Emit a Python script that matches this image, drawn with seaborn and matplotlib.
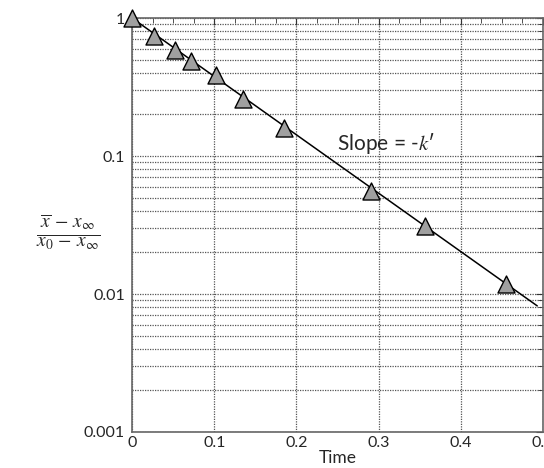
import numpy as np
import pandas as pd
import matplotlib
matplotlib.use("Agg")
import matplotlib.pyplot as plt
import matplotlib.ticker as mticker
import seaborn as sns

# Data
time_pts = [0.0, 0.027, 0.052, 0.072, 0.102, 0.135, 0.185, 0.291, 0.356, 0.455]
ratio_pts = [1.0, 0.741, 0.591, 0.488, 0.386, 0.259, 0.160, 0.0557, 0.0311, 0.0118]

# Straight fit line endpoints
fit_time = [0.0, 0.493]
fit_ratio = [1.0, 0.0082]

x_ticks = [0, 0.1, 0.2, 0.3, 0.4, 0.5]
x_tick_labels = ["0", "0.1", "0.2", "0.3", "0.4", "0.5"]
y_ticks = [0.001, 0.01, 0.1, 1]
y_tick_labels = ["0.001", "0.01", "0.1", "1"]

sns.set_style("white")
plt.rcParams['font.family'] = ['Lato', 'DejaVu Sans']
plt.rcParams['mathtext.fontset'] = 'stix'

pts = pd.DataFrame({"Time": time_pts, "ratio": ratio_pts})
fit = pd.DataFrame({"Time": fit_time, "ratio": fit_ratio})

fig = plt.figure(figsize=(5.44, 4.68), dpi=100)
ax = fig.add_axes([132 / 544, 36 / 468, 411 / 544, 414 / 468])

ax.set_yscale("log")
ax.set_xlim(0, 0.5)
ax.set_ylim(0.001, 1)

# gridlines
ax.grid(True, which="both", axis="y", linestyle=(0, (1, 1)), color="#555555", linewidth=0.9)
ax.grid(True, which="major", axis="x", linestyle=(0, (1, 1)), color="#555555", linewidth=0.9)
ax.set_axisbelow(True)

sns.lineplot(data=fit, x="Time", y="ratio", ax=ax, color="black", linewidth=1.1)
sns.scatterplot(data=pts, x="Time", y="ratio", ax=ax, marker="^", s=150,
                color="#a0a0a0", edgecolor="black", linewidth=1.0,
                clip_on=False, zorder=5)

ax.set_xticks(x_ticks)
ax.set_xticklabels(x_tick_labels)
ax.xaxis.set_minor_locator(mticker.MultipleLocator(0.025))
ax.set_yticks(y_ticks)
ax.set_yticklabels(y_tick_labels)
ax.yaxis.set_minor_locator(mticker.LogLocator(base=10, subs=np.arange(2, 10)))
ax.yaxis.set_minor_formatter(mticker.NullFormatter())

ax.tick_params(which="both", direction="in", top=True, right=True,
               color="#333333", labelsize=11.5, pad=3)
ax.tick_params(which="major", length=5)
ax.tick_params(which="minor", length=3.5)
ax.tick_params(axis="y", which="major", pad=5)

for sp in ax.spines.values():
    sp.set_color("#666666")
    sp.set_linewidth(1.2)

ax.set_xlabel("Time", fontsize=12.5, labelpad=0)
ax.set_ylabel("")

ax.text(0.309, 0.124, "Slope = -$\\mathit{k}$\u2032", fontsize=15,
        ha="center", va="center")

fig.text(68 / 544, 1 - 232 / 468,
         r"$\frac{\overline{x}\,-\,x_{\infty}}{x_0\,-\,x_{\infty}}$",
         fontsize=20, ha="center", va="center")

fig.savefig("out.png", dpi=100)
